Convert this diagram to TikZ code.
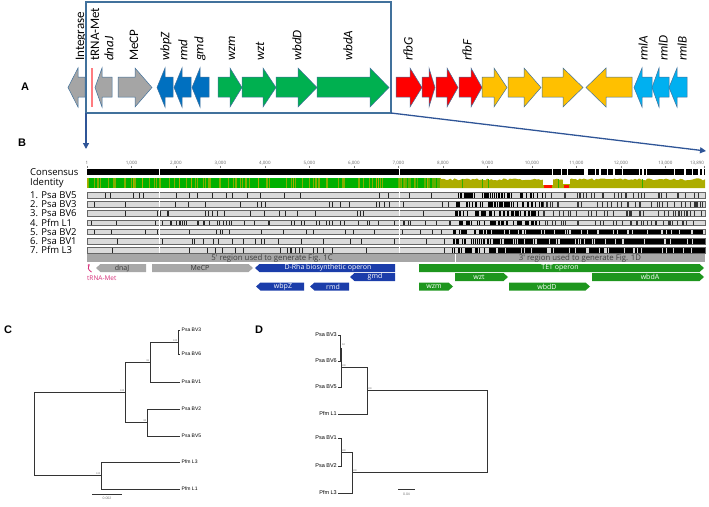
\documentclass[tikz,border=0pt]{standalone}
\usepackage{fontspec}
\setmainfont{Carlito}
\newfontfamily\osans{Open Sans}
\newfontfamily\arial{Liberation Sans}
\usetikzlibrary{arrows.meta}
\definecolor{frameblue}{HTML}{41719C}
\definecolor{linkblue}{HTML}{2F5597}
\definecolor{ggray}{HTML}{A5A5A5}
\definecolor{gblue}{HTML}{0070C0}
\definecolor{ggreen}{HTML}{00B050}
\definecolor{gred}{HTML}{FF0000}
\definecolor{gyellow}{HTML}{FFC000}
\definecolor{glblue}{HTML}{00B0F0}
\definecolor{trna}{HTML}{FF7C80}
\definecolor{idgreen}{HTML}{00B000}
\definecolor{idolive}{HTML}{ADAD00}
\definecolor{rowgray}{HTML}{DADADA}
\definecolor{regray}{HTML}{A6A6A6}
\definecolor{anblue}{HTML}{1B3DAA}
\definecolor{angreen}{HTML}{1E961E}
\definecolor{angray}{HTML}{A8A8A8}
\definecolor{magent}{HTML}{D6307A}
\definecolor{treeline}{HTML}{333333}
\newcommand\gRt[4]{\filldraw[fill=#4, draw=frameblue, line width=0.5pt] (#1,77)--(#3,77)--(#3,68)--(#2,87.5)--(#3,107)--(#3,97)--(#1,97)--cycle;}
\newcommand\gLt[4]{\filldraw[fill=#4, draw=frameblue, line width=0.5pt] (#2,77)--(#3,77)--(#3,68)--(#1,87.5)--(#3,107)--(#3,97)--(#2,97)--cycle;}
\newcommand\arrR[4]{\fill[#4] (#1,#3-4) -- (#2-4.5,#3-4) -- (#2,#3) -- (#2-4.5,#3+4) -- (#1,#3+4) -- cycle;}
\newcommand\arrL[4]{\fill[#4] (#2,#3-4) -- (#1+4.5,#3-4) -- (#1,#3) -- (#1+4.5,#3+4) -- (#2,#3+4) -- cycle;}
\begin{document}
\begin{tikzpicture}[x=1pt,y=-1pt,
  panel/.style={inner sep=0pt, font=\arial\bfseries\fontsize{11}{11}\selectfont},
  genelab/.style={rotate=90, anchor=west, inner sep=0pt, font=\fontsize{13}{13}\selectfont},
  genelabit/.style={genelab, font=\fontsize{13}{13}\selectfont\itshape},
  rowlab/.style={anchor=west, inner sep=0pt, font=\osans\fontsize{9.5}{10}\selectfont},
  ruler/.style={inner sep=0pt, text=black!60, font=\osans\fontsize{4.5}{5}\selectfont},
  regtext/.style={inner sep=0pt, text=black!75, font=\osans\fontsize{7.8}{8}\selectfont},
  antext/.style={inner sep=0pt, text=white, font=\osans\fontsize{7}{8}\selectfont},
  leafC/.style={anchor=west, inner sep=1.5pt, font=\arial\fontsize{5}{6}\selectfont},
  leafD/.style={anchor=east, inner sep=1pt, font=\arial\fontsize{5.5}{6}\selectfont},
  support/.style={inner sep=0pt, text=black!55, font=\arial\fontsize{2.5}{3}\selectfont},
  tree/.style={draw=treeline, line width=0.75pt}]
\useasboundingbox (0,0) rectangle (709,506);
\pgfmathsetseed{7}
% ---------------- Panel A ----------------
\node[panel] (pA) at (25,87) {A};
\gLt{68}{85}{78}{ggray}
\draw[trna, line width=1.5pt] (92,68) -- (92,107);
\gLt{95}{112}{102}{ggray}
\gRt{118}{152}{135}{ggray}
\gLt{157}{173}{165}{gblue}
\gLt{174}{191}{182}{gblue}
\gLt{192}{209}{200}{gblue}
\gRt{218}{242}{230}{ggreen}
\gRt{242}{276}{263}{ggreen}
\gRt{276}{317}{298}{ggreen}
\gRt{317}{389}{370}{ggreen}
\gRt{396}{422}{410}{gred}
\gRt{422}{435}{429}{gred}
\gRt{436}{458}{447}{gred}
\gRt{459}{482}{471}{gred}
\gRt{482}{507}{494}{gyellow}
\gRt{508}{541}{524}{gyellow}
\gRt{542}{583}{563}{gyellow}
\gLt{586}{632}{606}{gyellow}
\gLt{634}{652}{642}{glblue}
\gLt{652}{669}{659}{glblue}
\gLt{669}{687}{677}{glblue}
\node[genelab] (lInt) at (81,61) {Integrase};
\node[genelab] (ltRNA) at (95,61) {tRNA-Met};
\node[genelabit] (ldnaJ) at (109,61) {dnaJ};
\node[genelab] (lMeCP) at (134,61) {MeCP};
\node[genelabit] (lwbpZ) at (166,61) {wbpZ};
\node[genelabit] (lrmd) at (183,61) {rmd};
\node[genelabit] (lgmd) at (200,61) {gmd};
\node[genelabit] (lwzm) at (232,61) {wzm};
\node[genelabit] (lwzt) at (260,61) {wzt};
\node[genelabit] (lwbdD) at (297,61) {wbdD};
\node[genelabit] (lwbdA) at (348,61) {wbdA};
\node[genelabit] (lrfbG) at (408,61) {rfbG};
\node[genelabit] (lrfbF) at (467,61) {rfbF};
\node[genelabit] (lrmlA) at (643,61) {rmlA};
\node[genelabit] (lrmlD) at (663,61) {rmlD};
\node[genelabit] (lrmlB) at (682,61) {rmlB};
\draw[frameblue, line width=2pt] (86,2) rectangle (391,113);
\coordinate (fBL) at (86,113);
\coordinate (fBR) at (391,113);
\coordinate (tL) at (86,149);
\coordinate (tR) at (706,151);
\draw[linkblue, line width=1.3pt, -{Triangle[length=6pt,width=6pt]}] (fBL) -- (tL);
\draw[linkblue, line width=1.3pt, -{Triangle[length=6pt,width=6pt]}] (fBR) -- (tR);
% ---------------- Panel B ----------------
\node[panel] (pB) at (22,143) {B};
\foreach \bp/\lab in {1/1,1000/{1,000},2000/{2,000},3000/{3,000},4000/{4,000},5000/{5,000},6000/{6,000},7000/{7,000},8000/{8,000},9000/{9,000},10000/{10,000},11000/{11,000},12000/{12,000},13000/{13,000}}{
  \pgfmathsetmacro\xx{87+(\bp-1)*0.04449}
  \node[ruler] (rl\bp) at (\xx,163) {\lab};
  \draw[black!50, line width=0.3pt] (\xx,165.5) -- (\xx,167.5);
}
\node[ruler] (rlend) at (697,163) {13,890};
\draw[black!50, line width=0.3pt] (704.5,165.5) -- (704.5,167.5);
\node[rowlab] (lcons) at (30,172) {Consensus};
\node[rowlab] (lident) at (30,183) {Identity};
% consensus
\fill[black] (87,169) rectangle (705,175);
\fill[white] (158.5,169) rectangle ++(0.9,6);
\fill[white] (398.5,169) rectangle ++(0.9,6);
\foreach \i in {1,...,22}{\pgfmathsetmacro\xx{542+163*rnd}\pgfmathsetmacro\ww{0.5+1.2*rnd}\fill[white] (\xx,169) rectangle ++(\ww,6);}
% identity
\fill[idgreen] (87,178) rectangle (440,188);
\foreach \i in {1,...,80}{\pgfmathsetmacro\xx{87+353*rnd}\pgfmathsetmacro\ww{0.3+0.6*rnd}\fill[idolive!75!idgreen] (\xx,178) rectangle ++(\ww,10);}
\foreach \i in {1,...,12}{\pgfmathsetmacro\xx{87+353*rnd}\fill[idolive] (\xx,178) rectangle ++(0.6,10);}
\foreach \i in {1,...,25}{\pgfmathsetmacro\xx{398+42*rnd}\fill[idolive!55!idgreen] (\xx,178) rectangle ++(0.9,10);}
\fill[idolive] (440,188) -- plot[domain=440:705,samples=130] (\x,{178.3+2.2*rnd}) -- (705,188) -- cycle;
\foreach \i in {1,...,6}{\pgfmathsetmacro\xx{445+250*rnd}\fill[idgreen!70!idolive] (\xx,179) rectangle ++(0.7,9);}
\fill[white] (543,177.5) rectangle (553,184.5);
\fill[red!85!orange] (544,185) rectangle (552,188);
\fill[white] (563,177.5) rectangle (570,184);
\fill[red!85!orange] (564,185) rectangle (569,188);
% sequence rows
\foreach \yy/\lab/\typ/\nm in {195/{1. Psa BV5}/1/r1, 204.2/{2. Psa BV3}/1/r2, 213.4/{3. Psa BV6}/1/r3, 222.6/{4. Pfm L1}/3/r4, 231.8/{5. Psa BV2}/2/r5, 241/{6. Psa BV1}/2/r6, 250.2/{7. Pfm L3}/2/r7}{
  \node[rowlab] (\nm) at (30,\yy) {\lab};
  \fill[rowgray] (87,\yy-2.8) rectangle (705,\yy+2.8);
  \foreach \i in {1,...,20}{\pgfmathsetmacro\xx{87+365*rnd}\fill[black!85] (\xx,\yy-2.8) rectangle ++(0.6,5.6);}
  \ifnum\typ=3
    \foreach \i in {1,...,35}{\pgfmathsetmacro\xx{87+365*rnd}\fill[black!85] (\xx,\yy-2.8) rectangle ++(0.7,5.6);}
  \fi
  \ifnum\typ=2
    \foreach \i in {1,...,25}{\pgfmathsetmacro\xx{452+40*rnd}\pgfmathsetmacro\ww{0.4+1.2*rnd}\fill[black] (\xx,\yy-2.8) rectangle ++(\ww,5.6);}
    \fill[black] (492,\yy-2.8) rectangle (705,\yy+2.8);
    \foreach \i in {1,...,30}{\pgfmathsetmacro\xx{492+213*rnd}\pgfmathsetmacro\ww{0.4+1.0*rnd}\fill[rowgray] (\xx,\yy-2.8) rectangle ++(\ww,5.6);}
  \else
    \foreach \i in {1,...,55}{\pgfmathsetmacro\xx{455+87*rnd}\pgfmathsetmacro\ww{0.4+1.2*rnd}\fill[black] (\xx,\yy-2.8) rectangle ++(\ww,5.6);}
    \foreach \i in {1,...,40}{\pgfmathsetmacro\xx{542+163*rnd}\fill[black!80] (\xx,\yy-2.8) rectangle ++(0.6,5.6);}
  \fi
  \draw[black!60, line width=0.3pt] (87,\yy-2.8) rectangle (705,\yy+2.8);
  \fill[white] (158.5,\yy-3) rectangle ++(0.9,6);
  \fill[white] (398.5,\yy-3) rectangle ++(0.9,6);
}
% regions
\fill[regray] (87,254) rectangle (454.5,262);
\fill[regray] (455.5,254) rectangle (705,262);
\node[regtext] (reg5) at (272,258) {5' region used to generate Fig. 1C};
\node[regtext] (reg3) at (580,258) {3' region used to generate Fig. 1D};
% annotations
\draw[magent, line width=0.8pt, -{Stealth[length=2.2pt,width=2.5pt]}] (91.5,272) .. controls (88,270) and (87.5,267) .. (89.5,264);
\node[inner sep=0pt, text=magent, anchor=west, font=\osans\fontsize{6.5}{7}\selectfont] (ltrnaB) at (87,278) {tRNA-Met};
\arrL{96}{146}{268}{angray}
\node[antext, text=black!80] (adnaJ) at (122,268) {dnaJ};
\arrR{152}{253}{268}{angray}
\node[antext, text=black!80] (aMeCP) at (200,268) {MeCP};
\arrL{255}{395}{268}{anblue}
\node[antext] (aDRha) at (328,268) {D-Rha biosynthetic operon};
\arrL{350}{395}{277}{anblue}
\node[antext] (agmd) at (375,277) {gmd};
\arrL{256}{304}{286.5}{anblue}
\node[antext] (awbpZ) at (283,286.5) {wbpZ};
\arrL{310}{349}{286.5}{anblue}
\node[antext] (armd) at (333,286.5) {rmd};
\arrR{419}{704}{268}{angreen}
\node[antext] (aTET) at (560,268) {TET operon};
\arrR{455}{508}{277}{angreen}
\node[antext] (awzt) at (479,277) {wzt};
\arrR{592}{704}{277}{angreen}
\node[antext] (awbdA) at (650,277) {wbdA};
\arrR{419}{453}{286.5}{angreen}
\node[antext] (awzm) at (434,286.5) {wzm};
\arrR{509}{590}{286.5}{angreen}
\node[antext] (awbdD) at (547,286.5) {wbdD};
% ---------------- Panel C ----------------
\node[panel] (pC) at (8,330) {C};
\coordinate (cR) at (34,433);
\coordinate (cA) at (125,392);
\coordinate (cA1) at (150,362.5);
\coordinate (cA11) at (178,342);
\coordinate (cA2) at (147,422.5);
\coordinate (cB) at (101,475.5);
\node[leafC] (cBV3) at (180,330) {Psa BV3};
\node[leafC] (cBV6) at (180,354) {Psa BV6};
\node[leafC] (cBV1) at (180,382) {Psa BV1};
\node[leafC] (cBV2) at (180,409) {Psa BV2};
\node[leafC] (cBV5) at (180,436) {Psa BV5};
\node[leafC] (cL3) at (180,462) {Pfm L3};
\node[leafC] (cL1) at (180,489) {Pfm L1};
\draw[tree] (cR) |- (cA);
\draw[tree] (cR) |- (cB);
\draw[tree] (cA) |- (cA1);
\draw[tree] (cA) |- (cA2);
\draw[tree] (cA1) |- (cA11);
\draw[tree] (cA1) |- (cBV1.west);
\draw[tree] (cA11) |- (cBV3.west);
\draw[tree] (cA11) |- (cBV6.west);
\draw[tree] (cA2) |- (cBV2.west);
\draw[tree] (cA2) |- (cBV5.west);
\draw[tree] (cB) |- (cL3.west);
\draw[tree] (cB) |- (cL1.west);
\node[support, anchor=south east] (sC1) at (177.5,342) {100};
\node[support, anchor=south east] (sC2) at (149.5,362) {81};
\node[support, anchor=south east] (sC3) at (124.5,391.5) {100};
\node[support, anchor=south east] (sC4) at (146.5,422) {82};
\node[support, anchor=south east] (sC5) at (100.5,475) {100};
\coordinate (sbC1) at (92,494);
\coordinate (sbC2) at (122,494);
\draw[treeline, line width=0.4pt] (sbC1) -- (sbC2);
\node[support, font=\arial\fontsize{3.5}{4}\selectfont] (sbCl) at (107,498.5) {0.002};
% ---------------- Panel D ----------------
\node[panel] (pD) at (259,330) {D};
\node[leafD] (dBV3) at (338,335) {Psa BV3};
\node[leafD] (dBV6) at (338,361) {Psa BV6};
\node[leafD] (dBV5) at (338,387) {Psa BV5};
\node[leafD] (dL1) at (338,414) {Pfm L1};
\node[leafD] (dBV1) at (338,438) {Psa BV1};
\node[leafD] (dBV2) at (338,466) {Psa BV2};
\node[leafD] (dL3) at (338,493) {Pfm L3};
\coordinate (dN0) at (340.5,348);
\coordinate (dN1) at (341,367);
\coordinate (dN2) at (367,390.5);
\coordinate (dR) at (487,431.5);
\coordinate (dN3) at (341,452);
\coordinate (dN4) at (352,472.5);
\draw[tree] (dN0) |- (dBV3.east);
\draw[tree] (dN0) |- (dBV6.east);
\draw[tree] (dN1) |- (dN0);
\draw[tree] (dN1) |- (dBV5.east);
\draw[tree] (dN2) |- (dN1);
\draw[tree] (dN2) |- (dL1.east);
\draw[tree] (dR) |- (dN2);
\draw[tree] (dR) |- (dN4);
\draw[tree] (dN4) |- (dN3);
\draw[tree] (dN4) |- (dL3.east);
\draw[tree] (dN3) |- (dBV1.east);
\draw[tree] (dN3) |- (dBV2.east);
\node[support, anchor=west] (sD1) at (342,345) {62};
\node[support, anchor=south west] (sD2) at (341.5,366.5) {100};
\node[support, anchor=south west] (sD3) at (367.5,390) {100};
\node[support, anchor=south west] (sD4) at (341.5,451.5) {100};
\node[support, anchor=south west] (sD5) at (352.5,472) {100};
\coordinate (sbD1) at (398,489);
\coordinate (sbD2) at (415,489);
\draw[treeline, line width=0.4pt] (sbD1) -- (sbD2);
\node[support, font=\arial\fontsize{3.5}{4}\selectfont] (sbDl) at (406.5,494) {0.04};
\end{tikzpicture}
\end{document}
